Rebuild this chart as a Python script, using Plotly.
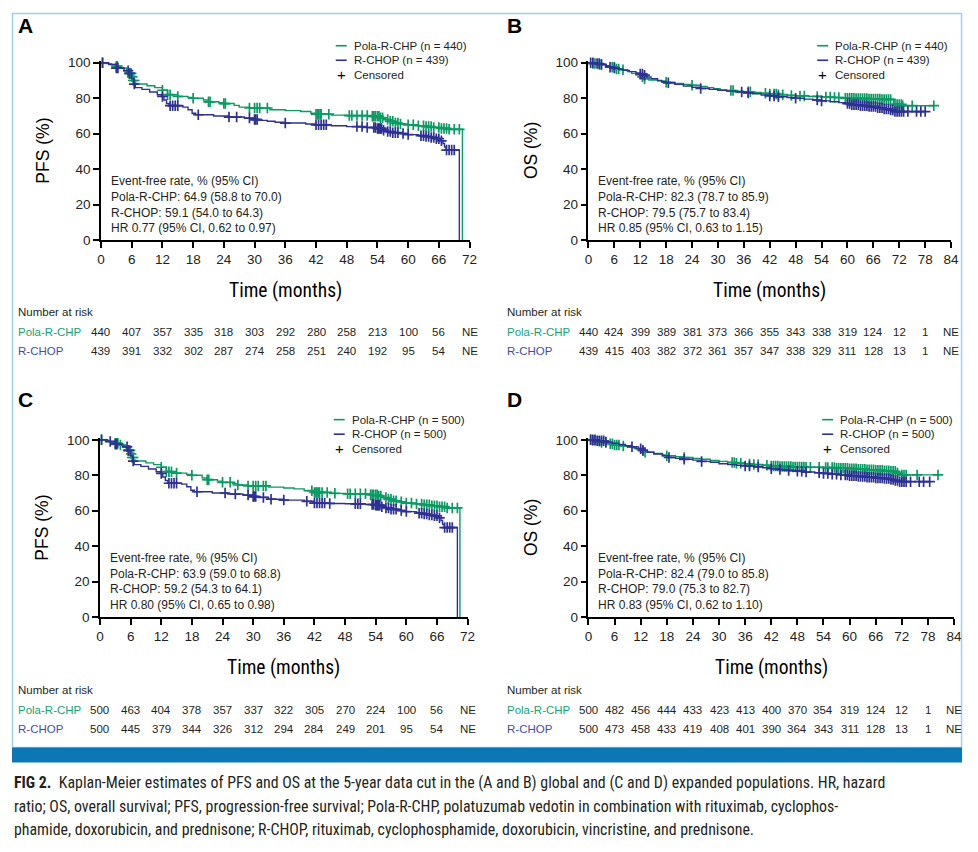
import numpy as np
import plotly.graph_objects as go

# The page body keeps its default 8 px margin, so the figure is drawn 16 px smaller.
# Positions are written in reference-picture pixels; fx/fy turn them into paper
# fractions, including the small shift/scale the page capture applies.
W, H = 978, 852
OFF = 8
FW, FH = W - 2 * OFF, H - 2 * OFF
SX, BX = 0.9886, 3.0
SY, BY = 0.982, 6.5

# ---- colours ----
GREEN = '#0b9a63'
BLUE = '#2e3192'
GREEN_TXT = '#17a274'
BLUE_TXT = '#464ca4'
INK = '#231f20'
FIG_BLUE = '#0b77b5'

# ---- Panel A: PFS, global population ----
a_pola_t = [0, 1, 2, 3, 4, 5, 5.5, 6, 6.3, 6.6, 7, 9, 10.5, 12, 13, 15, 17, 18, 20, 21, 23, 24, 26, 27, 29,
            33, 36, 39, 41, 42, 45, 48, 53, 54.5, 55.5, 56.5, 57.5, 58.5, 60, 62, 63.5, 65, 66.5, 68, 70.6]
a_pola_s = [100, 99.5, 99, 98, 97, 95.5, 94, 92, 90, 88.5, 88, 87, 86, 84.5, 82, 81, 80.5, 80, 79, 78, 77.5, 77,
            76, 75, 74.5, 73.5, 73, 72.5, 71.5, 71, 70.5, 70.2, 69.8, 69, 68, 67, 66, 65.5, 65, 64.5, 64, 63.5,
            63, 62.5, 0]
a_rchop_t = [0, 1.5, 3, 4.5, 5.5, 6, 6.4, 6.7, 8, 9.5, 11, 11.8, 12.3, 12.8, 13.3, 16, 17, 17.8, 18.5, 22, 25,
             28, 30, 31, 32.5, 34, 36, 40, 42, 45, 48, 52, 54, 55, 56, 57, 58.5, 60, 62, 63.5, 64.5, 65.5, 66.3,
             66.8, 67.1, 67.4, 70]
a_rchop_s = [100, 99, 97, 95.5, 94, 91, 88, 86, 85, 83.5, 82, 81, 79, 77, 75.8, 75, 73.5, 71.5, 70.7, 70, 69.4,
             68.8, 68, 67.5, 67, 66.5, 66, 65.5, 65, 64.5, 64, 63.5, 63, 62, 61.2, 60.6, 60.1, 59.5, 58.9, 58.4,
             57.9, 57.2, 56, 54.5, 52.5, 50.8, 0]
a_pola_cens = [0.3, 3, 3.2, 5.5, 5.7, 5.9, 6.1, 6.3, 6.5, 12, 13, 13.5, 15, 18, 21, 21.3, 24, 24.3, 29, 30, 30.5,
               31, 32.5, 42, 42.3, 42.5, 42.8, 43, 44.5, 48.5, 49, 50, 51, 52, 53, 53.3, 53.6, 54, 54.3, 54.6, 55,
               56, 56.5, 57, 57.5, 58, 58.5, 60, 61, 62, 63, 63.5, 64, 64.5, 65, 66, 66.5, 67, 67.5, 68, 69, 70]
a_rchop_cens = [0.3, 3, 3.3, 5.3, 5.6, 6.5, 12, 13.5, 14, 14.5, 15, 19, 25, 26.5, 29, 30, 30.2, 30.5, 36, 42,
                42.5, 43, 43.5, 44, 50, 51, 52, 53.3, 53.6, 54, 54.2, 54.4, 54.6, 54.8, 55.2, 56, 56.5, 57, 57.5,
                58, 59, 60, 62.5, 63, 63.5, 64, 64.5, 65, 65.5, 66, 66.5, 67.5, 68, 68.5, 69]
a_risk_pola = ['440', '407', '357', '335', '318', '303', '292', '280', '258', '213', '100', '56', 'NE']
a_risk_rchop = ['439', '391', '332', '302', '287', '274', '258', '251', '240', '192', '95', '54', 'NE']

# ---- Panel B: OS, global population ----
b_pola_t = [0, 1, 2.5, 4, 5, 6.5, 8, 9, 10, 11, 12, 12.7, 14, 16, 18, 20, 22, 24, 26, 27.5, 29, 30.5, 32, 34,
            36, 38, 40, 42, 44, 46, 48, 51, 54, 57, 59, 62, 65, 68, 70.7, 72.8, 80]
b_pola_s = [100, 99.5, 99, 98, 97.5, 96.5, 96, 95, 94, 93, 92, 91, 90.3, 89.8, 89, 88.3, 87.7, 87.3, 86.7, 86,
            85.3, 84.7, 84.3, 84, 83.6, 83.2, 82.8, 82.4, 82, 81.6, 81.3, 81, 80.7, 80.4, 80, 79.8, 79.6, 79.3,
            76.5, 75.8, 75.8]
b_rchop_t = [0, 1.5, 3, 4, 5, 6, 7, 8, 9.5, 11, 12, 12.8, 13.5, 14.5, 16, 17, 18, 20, 22, 24, 26, 28, 30, 32,
             34, 36, 38, 40, 42, 44, 46, 48, 50, 52, 54, 56, 58, 59.5, 61, 63, 65, 67, 68.5, 70, 71, 78]
b_rchop_s = [100, 99.5, 99, 98.3, 97.5, 97, 96.3, 95.7, 95, 94.2, 93.7, 93, 92, 91, 90, 89.3, 88.7, 87.8, 86.8,
             86.2, 85.5, 85, 84.5, 84, 83.5, 83, 82.5, 81.8, 81.3, 80.8, 80.4, 80, 79.5, 79, 78.5, 78, 77.5, 77,
             76.3, 75.8, 75.3, 74.6, 74, 73.3, 72.5, 72.5]
b_pola_cens = [1, 1.5, 2.5, 3, 5.5, 6, 6.5, 7, 8, 12.5, 13, 18, 24, 33, 33.5, 37, 37.5, 41, 42, 43, 43.5, 44, 45,
               47, 49, 50, 53, 55, 56, 57, 58, 59.5, 60, 60.5, 61, 61.5, 62, 62.5, 63, 63.5, 64, 64.5, 65, 65.5,
               66, 66.5, 67, 67.5, 68, 68.5, 69, 69.5, 70, 71, 71.5, 72, 72.5, 72.8, 75, 80]
b_rchop_cens = [0.5, 1, 2, 2.5, 3, 5, 6, 12, 12.5, 13, 18.5, 26, 35.5, 37, 42, 43, 44, 48, 53, 54, 60, 60.5, 61,
                61.5, 62, 62.5, 63, 63.5, 64, 64.5, 65, 65.5, 66, 66.5, 67, 67.5, 68, 68.5, 69, 69.5, 70, 70.5,
                71, 71.5, 72, 72.5, 73, 74, 76, 77, 78]
b_risk_pola = ['440', '424', '399', '389', '381', '373', '366', '355', '343', '338', '319', '124', '12', '1', 'NE']
b_risk_rchop = ['439', '415', '403', '382', '372', '361', '357', '347', '338', '329', '311', '128', '13', '1', 'NE']

# ---- Panel C: PFS, expanded population ----
c_pola_t = [0, 1, 2, 3, 4, 5, 5.5, 6, 6.3, 6.6, 7, 9, 10.5, 12, 13, 15, 17, 18, 20, 21, 23, 24, 26, 27, 29,
            33, 36, 38, 40, 42, 45, 48, 53, 54.5, 55.5, 56.5, 57.5, 58.5, 60, 62, 63.5, 65, 66.5, 68, 70.5]
c_pola_s = [100, 99.5, 99, 98, 97, 95.5, 94, 92, 90, 88.5, 88, 87, 86, 84.5, 82, 81.2, 80.5, 80, 78.5, 77.5,
            76.7, 76, 75.3, 74.5, 74, 73.3, 72.8, 72.3, 71.3, 70.3, 69.8, 69.5, 69, 68.3, 67.4, 66.5, 65.6, 65,
            64.3, 63.8, 63.3, 62.8, 62.3, 61.6, 0]
c_rchop_t = [0, 1.5, 3, 4.5, 5.5, 6, 6.4, 6.7, 8, 9.5, 11, 11.8, 12.3, 12.8, 13.3, 16, 17, 17.8, 18.5, 22, 25,
             28, 30, 31, 33, 36, 40, 42, 45, 48, 52, 54, 55, 56, 57, 58.5, 60, 62, 63.5, 64.5, 65.5, 66.3, 66.8,
             67.1, 67.4, 70]
c_rchop_s = [100, 99, 97.5, 96, 94, 91, 88, 86, 85, 83.5, 82, 81, 79, 77, 75.5, 75, 73.5, 71.5, 70.7, 70, 69.4,
             68.8, 68, 67.5, 66.5, 66, 65.3, 64.3, 64.1, 63.9, 63.5, 63.1, 62.3, 61.6, 60.8, 60.1, 59.5, 58.6,
             58.1, 57.6, 57.1, 56, 54.5, 52.3, 50.5, 0]
c_pola_cens = [0.3, 3, 3.2, 3.5, 4, 5.5, 5.7, 5.9, 6.1, 6.3, 6.5, 12, 13, 13.5, 14, 15, 18, 21, 21.3, 24, 25.5,
               27, 29, 30, 30.5, 31, 32, 32.5, 41.5, 42, 42.3, 42.5, 42.8, 43, 43.5, 44.5, 46, 48.5, 49, 50, 51,
               52, 53, 53.3, 53.6, 54, 54.3, 54.6, 55, 56, 56.5, 57, 57.5, 58, 59, 60, 61, 62, 63, 63.5, 64,
               64.5, 65, 65.5, 66, 66.5, 67, 67.5, 68, 69, 70]
c_rchop_cens = [0.3, 2, 3, 3.3, 5.3, 5.6, 6.5, 12, 13.5, 14, 14.5, 15, 19, 24.5, 26.5, 29, 30, 30.2, 30.5, 32,
                33.5, 36, 40.5, 42, 42.5, 43, 43.5, 44, 45, 50, 50.5, 51, 53.3, 53.6, 54, 54.2, 54.4, 54.6, 54.8,
                55.2, 56, 56.5, 57, 57.5, 58, 59, 60, 62.5, 63, 63.5, 64, 64.5, 65, 65.5, 66, 66.5, 67.5, 68,
                68.5, 69]
c_risk_pola = ['500', '463', '404', '378', '357', '337', '322', '305', '270', '224', '100', '56', 'NE']
c_risk_rchop = ['500', '445', '379', '344', '326', '312', '294', '284', '249', '201', '95', '54', 'NE']

# ---- Panel D: OS, expanded population ----
d_pola_t = [0, 1, 2, 3, 4.5, 6, 7.5, 9, 10.5, 12, 13, 15, 17, 18, 20, 22, 24, 26, 28, 30, 32, 34, 36, 38, 40,
            42, 44, 47, 50, 54, 57, 60, 62, 64, 66, 68, 69.5, 70.8, 72, 80.3]
d_pola_s = [100, 99.6, 99.2, 98.5, 97.8, 97, 96.5, 96, 95, 94, 93, 92.3, 91.5, 91, 90.5, 90, 89.5, 89, 88.3,
            87.8, 87.2, 86.8, 86.4, 86, 85.6, 85.2, 84.9, 84.7, 84.5, 84.3, 84, 83.7, 83.4, 83.1, 82.8, 82.5,
            82.2, 81.2, 80.2, 80.2]
d_rchop_t = [0, 2, 4, 5.5, 7, 8.5, 10, 11.5, 12.5, 13.5, 15, 17, 18.5, 20, 22, 24, 26, 28, 30, 32, 34, 36, 38,
             40, 42, 44, 46, 48, 50, 52, 54, 56, 58, 60, 62, 64, 66, 68, 69.5, 70.5, 71.5, 78.4]
d_rchop_s = [100, 99.4, 98.7, 98, 97.3, 96.7, 96, 95, 94, 93, 92, 91, 90, 89.5, 89, 88.5, 87.8, 87.3, 86.5, 86,
             85.6, 85.2, 84.7, 84.2, 83.7, 83.2, 82.7, 82.3, 81.8, 81.4, 81, 80.6, 80.2, 79.7, 79.3, 78.9, 78.5,
             78.1, 77.6, 77, 76.4, 76.4]
d_pola_cens = [0.5, 1, 1.5, 2.5, 3, 4, 5, 5.5, 6, 6.5, 7, 8, 12.5, 13, 18, 22, 33, 33.5, 34, 35, 37, 38, 39, 41,
               42, 42.5, 43, 43.5, 44, 44.5, 45, 45.5, 46, 46.5, 47, 47.5, 48, 48.5, 49, 49.5, 50, 51, 53, 54.5,
               55, 56, 56.5, 57, 57.5, 58, 58.5, 59, 59.5, 60, 60.5, 61, 61.5, 62, 62.5, 63, 63.5, 64, 64.5, 65,
               65.5, 66, 66.5, 67, 67.5, 68, 68.5, 69, 69.5, 70, 70.5, 71, 72, 72.5, 73, 75.5, 80.3]
d_rchop_cens = [0.5, 1, 1.5, 2, 2.5, 3, 3.5, 4, 10, 12, 12.5, 18.5, 22, 26, 36, 37, 39, 42, 44, 46, 48, 49, 50,
                53, 54, 55, 56, 57, 58, 59, 59.5, 60, 60.5, 61, 61.5, 62, 62.5, 63, 63.5, 64, 64.5, 65, 65.5, 66,
                66.5, 67, 67.5, 68, 68.5, 69, 69.5, 70, 70.5, 71, 71.5, 72, 72.5, 73, 74, 76, 77, 78.4]
d_risk_pola = ['500', '482', '456', '444', '433', '423', '413', '400', '370', '354', '319', '124', '12', '1', 'NE']
d_risk_rchop = ['500', '473', '458', '433', '419', '408', '401', '390', '364', '343', '311', '128', '13', '1', 'NE']

# ---- text ----
stats_a = ['Event-free rate, % (95% CI)', 'Pola-R-CHP: 64.9 (58.8 to 70.0)',
           'R-CHOP: 59.1 (54.0 to 64.3)', 'HR 0.77 (95% CI, 0.62 to 0.97)']
stats_b = ['Event-free rate, % (95% CI)', 'Pola-R-CHP: 82.3 (78.7 to 85.9)',
           'R-CHOP: 79.5 (75.7 to 83.4)', 'HR 0.85 (95% CI, 0.63 to 1.15)']
stats_c = ['Event-free rate, % (95% CI)', 'Pola-R-CHP: 63.9 (59.0 to 68.8)',
           'R-CHOP: 59.2 (54.3 to 64.1)', 'HR 0.80 (95% CI, 0.65 to 0.98)']
stats_d = ['Event-free rate, % (95% CI)', 'Pola-R-CHP: 82.4 (79.0 to 85.8)',
           'R-CHOP: 79.0 (75.3 to 82.7)', 'HR 0.83 (95% CI, 0.62 to 1.10)']
caption_lines = [
    '<b>FIG 2.</b>  Kaplan-Meier estimates of PFS and OS at the 5-year data cut in the (A and B) global and '
    '(C and D) expanded populations. HR, hazard',
    'ratio; OS, overall survival; PFS, progression-free survival; Pola-R-CHP, polatuzumab vedotin in '
    'combination with rituximab, cyclophos-',
    'phamide, doxorubicin, and prednisone; R-CHOP, rituximab, cyclophosphamide, doxorubicin, vincristine, '
    'and prednisone.',
]

SANS = 'Liberation Sans, Arial, sans-serif'
NARROW = 'Liberation Sans Narrow, Roboto Condensed, DejaVu Sans Condensed, sans-serif'


def fx(px):
    return min(max(((px - BX) / SX - OFF) / FW, 0.0005), 0.9995)


def fy(py):
    return min(max(1 - ((py - BY) / SY - OFF) / FH, 0.0005), 0.9995)


def step_lookup(times, surv, at):
    idx = np.searchsorted(np.asarray(times), np.asarray(at), side='right') - 1
    return list(np.asarray(surv)[idx])


def text(label, x, y, size=12, color=INK, xanchor='left', **kw):
    return dict(text=label, x=x, y=y, xref=kw.pop('xref', 'paper'), yref='paper', xanchor=xanchor,
                yanchor='middle', showarrow=False, font=dict(size=size, color=color, **kw.pop('font', {})), **kw)


panels = [
    dict(letter='A', ytitle='PFS (%)', xmax=72, n=(440, 439), x0=100, x1=469, y0=241, y1=62.2, lx=17, ly=27,
         pola=(a_pola_t, a_pola_s, a_pola_cens), rchop=(a_rchop_t, a_rchop_s, a_rchop_cens),
         risk=(a_risk_pola, a_risk_rchop), stats=stats_a, leg=(335, 47), top=313),
    dict(letter='B', ytitle='OS (%)', xmax=84, n=(440, 439), x0=588, x1=951, y0=241, y1=62.2, lx=506, ly=27,
         pola=(b_pola_t, b_pola_s, b_pola_cens), rchop=(b_rchop_t, b_rchop_s, b_rchop_cens),
         risk=(b_risk_pola, b_risk_rchop), stats=stats_b, leg=(817, 47), top=313),
    dict(letter='C', ytitle='PFS (%)', xmax=72, n=(500, 500), x0=99, x1=467, y0=617, y1=438.3, lx=17, ly=400,
         pola=(c_pola_t, c_pola_s, c_pola_cens), rchop=(c_rchop_t, c_rchop_s, c_rchop_cens),
         risk=(c_risk_pola, c_risk_rchop), stats=stats_c, leg=(333, 420), top=690),
    dict(letter='D', ytitle='OS (%)', xmax=84, n=(500, 500), x0=588, x1=954, y0=617, y1=438.3, lx=506, ly=400,
         pola=(d_pola_t, d_pola_s, d_pola_cens), rchop=(d_rchop_t, d_rchop_s, d_rchop_cens),
         risk=(d_risk_pola, d_risk_rchop), stats=stats_d, leg=(822, 420), top=690),
]

fig = go.Figure()
layout = dict(width=FW, height=FH, margin=dict(l=0, r=0, t=0, b=0), showlegend=False,
              plot_bgcolor='white', paper_bgcolor='white', font=dict(family=SANS, color=INK))
annotations = []
shapes = []

# outer frame + blue bar under the panels
shapes.append(dict(type='rect', xref='paper', yref='paper', x0=fx(4), x1=fx(974.5), y0=fy(747), y1=fy(3),
                   line=dict(color='#9fd0ef', width=1.5), fillcolor='rgba(0,0,0,0)', layer='below'))
shapes.append(dict(type='rect', xref='paper', yref='paper', x0=0, x1=1, y0=fy(762), y1=fy(747),
                   line=dict(width=0), fillcolor=FIG_BLUE))

for i, p in enumerate(panels):
    k = '' if i == 0 else str(i + 1)
    xa, ya = 'x' + k, 'y' + k
    ticks_x = list(range(0, p['xmax'] + 1, 6))

    layout['xaxis' + k] = dict(domain=[fx(p['x0']), fx(p['x1'])], range=[0, p['xmax']], anchor=ya,
                               tickvals=ticks_x, ticks='outside', ticklen=6, tickwidth=1.5, tickcolor='black',
                               showline=True, linecolor='black', linewidth=1.5, showgrid=False, zeroline=False,
                               tickfont=dict(size=13.5, color=INK))
    layout['yaxis' + k] = dict(domain=[fy(p['y0']), fy(p['y1'])], range=[0, 101], anchor=xa,
                               tickvals=[0, 20, 40, 60, 80, 100], ticks='outside', ticklen=6, tickwidth=1.5,
                               tickcolor='black', showline=True, linecolor='black', linewidth=1.5,
                               showgrid=False, zeroline=False, tickfont=dict(size=13.5, color=INK))

    for (times, surv, cens), col in ((p['pola'], GREEN), (p['rchop'], BLUE)):
        fig.add_trace(go.Scatter(x=times, y=surv, mode='lines', line=dict(color=col, width=1.4, shape='hv'),
                                 xaxis=xa, yaxis=ya, cliponaxis=False, hoverinfo='skip'))
        fig.add_trace(go.Scatter(x=cens, y=step_lookup(times, surv, cens), mode='markers',
                                 marker=dict(symbol='cross-thin', size=7.5, line=dict(color=col, width=1.7)),
                                 xaxis=xa, yaxis=ya, cliponaxis=False, hoverinfo='skip'))

    # panel letter and axis titles
    annotations.append(text(p['letter'], fx(p['lx'] - 2), fy(p['ly']), size=21, color='black',
                            font=dict(weight='bold')))
    annotations.append(text(p['ytitle'], fx(p['x0'] - 58), fy((p['y0'] + p['y1']) / 2), size=17.5,
                            color='black', xanchor='center', textangle=-90))
    annotations.append(text('Time (months)', fx((p['x0'] + p['x1']) / 2), fy(p['y0'] + 50), size=19.5,
                            color='black', xanchor='center', font=dict(family=NARROW)))

    # event-free rate box
    for j, line in enumerate(p['stats']):
        annotations.append(text(line, fx(p['x0'] + 8), fy(p['y0'] - 59 + j * 15.7), size=12))

    # legend
    lx, ly = p['leg']
    entries = [(GREEN, f'Pola-R-CHP (n = {p["n"][0]})'), (BLUE, f'R-CHOP (n = {p["n"][1]})'), (None, 'Censored')]
    for j, (col, label) in enumerate(entries):
        yy = ly + j * 14.5
        if col:
            shapes.append(dict(type='line', xref='paper', yref='paper', x0=fx(lx), x1=fx(lx + 11), y0=fy(yy),
                               y1=fy(yy), line=dict(color=col, width=1.6)))
        else:
            annotations.append(text('+', fx(lx + 5.5), fy(yy), size=15, color='black', xanchor='center'))
        annotations.append(text(label, fx(lx + 16), fy(yy), size=11.5))

    # number at risk table
    annotations.append(text('Number at risk', fx(p['lx'] - 2), fy(p['top']), size=11.5))
    for j, (name, col, row) in enumerate((('Pola-R-CHP', GREEN_TXT, p['risk'][0]),
                                          ('R-CHOP', BLUE_TXT, p['risk'][1]))):
        yy = p['top'] + 19.5 + j * 19
        annotations.append(text(name, fx(p['lx'] - 2), fy(yy), size=11.5, color=col))
        for t, val in zip(ticks_x, row):
            annotations.append(text(val, t, fy(yy), size=11.5, xanchor='center', xref=xa))

# figure caption
for j, line in enumerate(caption_lines):
    annotations.append(text(line, fx(3), fy(782 + j * 23.5), size=15.9, font=dict(family=NARROW)))

layout['annotations'] = annotations
layout['shapes'] = shapes
fig.update_layout(**layout)

fig.write_html("out.html", config={'displayModeBar': False})
